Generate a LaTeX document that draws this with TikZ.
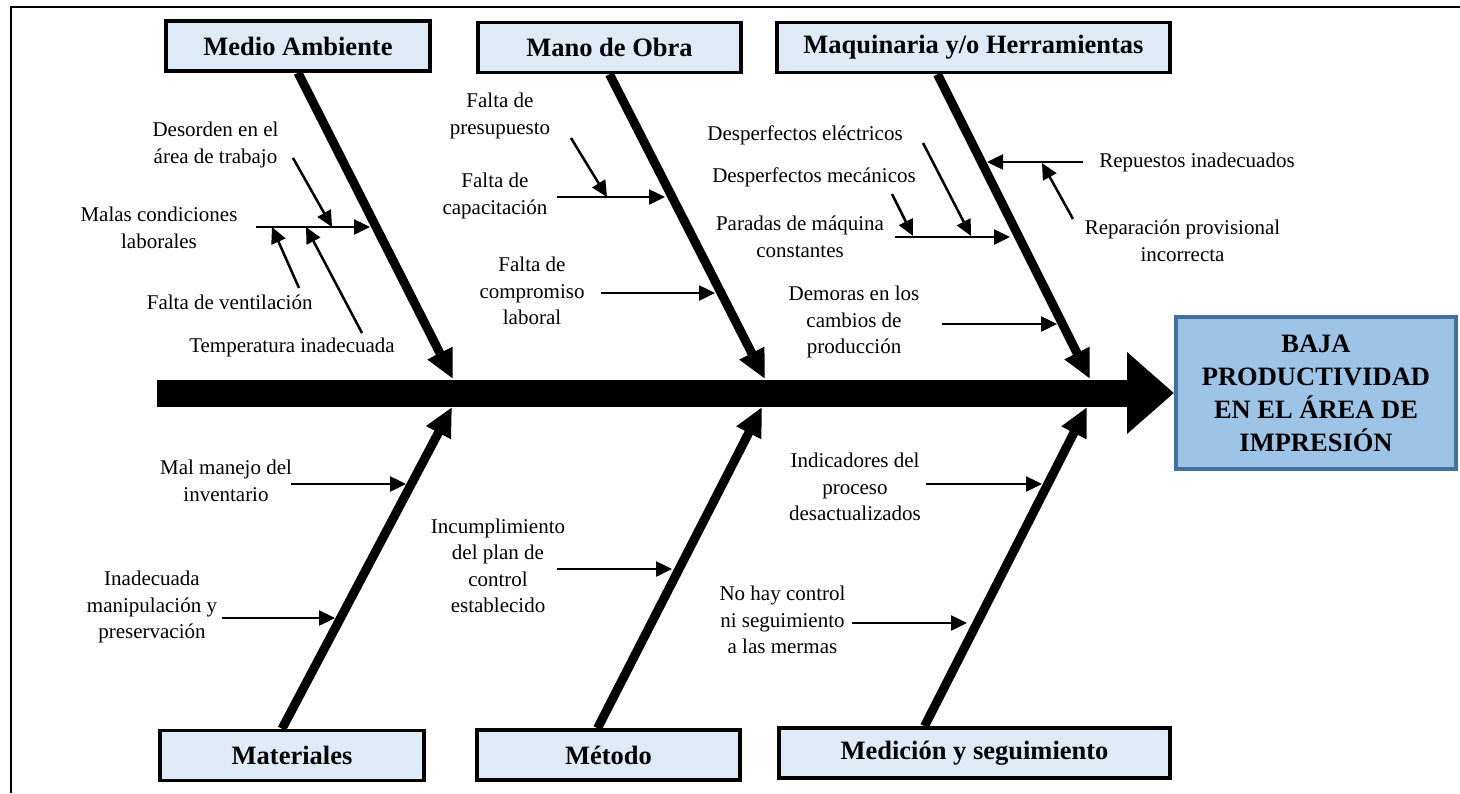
\documentclass[tikz,border=0pt]{standalone}
\usepackage{fontspec}
\setmainfont{Liberation Serif}
\usetikzlibrary{arrows.meta}

\definecolor{catfill}{RGB}{222,235,247}
\definecolor{efffill}{RGB}{157,195,230}
\definecolor{effdraw}{RGB}{65,113,156}

\tikzset{
  catbox/.style={draw, line width=3.5pt, fill=catfill, minimum height=50pt,
    font=\fontsize{26.5}{32}\selectfont\bfseries},
  cause/.style={align=center, inner sep=2pt, font=\fontsize{21}{26.5}\selectfont},
  bone/.style={line width=9pt, -{Triangle[length=29pt,width=26pt]}},
  sub/.style={line width=2.5pt, -{Triangle[length=16pt,width=15pt]}},
  spine/.style={line width=27pt, -{Triangle[length=47pt,width=79pt]}},
}

\begin{document}
\begin{tikzpicture}[x=1pt,y=-1pt]
\useasboundingbox (0,0) rectangle (1460,793);
% marco
\draw[line width=2.5pt] (11,793) -- (11,7) -- (1460,7);

% efecto
\node[draw=effdraw, line width=4pt, fill=efffill, minimum width=280pt, minimum height=152pt,
  align=center, font=\fontsize{26.5}{33}\selectfont\bfseries] (efecto) at (1316,393)
  {BAJA\\PRODUCTIVIDAD\\EN EL ÁREA DE\\IMPRESIÓN};

% categorias
\node[catbox, minimum width=264pt] (medio) at (298,46) {Medio Ambiente};
\node[catbox, minimum width=263pt] (mano) at (609.5,47.5) {Mano de Obra};
\node[catbox, minimum width=393pt] (maq) at (973.5,47.5) {Maquinaria y/o Herramientas};
\node[catbox, minimum width=264pt] (mat) at (292,755.5) {Materiales};
\node[catbox, minimum width=263pt] (met) at (608.5,755) {Método};
\node[catbox, minimum width=391pt] (med) at (974.5,753) {Medición y seguimiento};

% espina
\coordinate (cola) at (157,393);
\draw[spine] (cola) -- (efecto.west);

\coordinate (j1) at (453,379);
\coordinate (j2) at (765,379);
\coordinate (j3) at (1090,379);
\coordinate (k1) at (452,407);
\coordinate (k2) at (762,407);
\coordinate (k3) at (1087,407);

\draw[bone] (medio.south) -- (j1);
\draw[bone] (mano.south) -- (j2);
\draw[bone] ([xshift=-36pt]maq.south) -- (j3);
\draw[bone] ([xshift=-10pt]mat.north) -- (k1);
\draw[bone] ([xshift=-11pt]met.north) -- (k2);
\draw[bone] ([xshift=-50pt]med.north) -- (k3);

% Medio Ambiente
\node[cause] (ma1) at (215.5,145) {Desorden en el\\área de trabajo};
\node[cause] (ma2) at (159,228) {Malas condiciones\\laborales};
\node[cause] (ma3) at (229.7,302) {Falta de ventilación};
\node[cause] (ma4) at (292,347) {Temperatura inadecuada};
\coordinate (pma) at (370,227);
\draw[sub] (ma2.east |- pma) ++(16pt,0) -- (pma);
\coordinate (a1) at (293,158);
\coordinate (a2) at (332,227);
\coordinate (a3) at (299,288);
\coordinate (a4) at (272,227);
\coordinate (a5) at (362,333);
\coordinate (a6) at (306,227);
\draw[sub] (a1) -- (a2);
\draw[sub] (a3) -- (a4);
\draw[sub] (a5) -- (a6);

% Mano de Obra
\node[cause] (mo1) at (500,116) {Falta de\\presupuesto};
\node[cause] (mo2) at (495,196) {Falta de\\capacitación};
\node[cause] (mo3) at (532,291) {Falta de\\compromiso\\laboral};
\coordinate (pmo2) at (665,197);
\coordinate (pmo3) at (715,293);
\draw[sub] (mo2.east |- pmo2) ++(7pt,0) -- (pmo2);
\draw[sub] (mo3.east |- pmo3) ++(14pt,0) -- (pmo3);
\coordinate (b1) at (571,138);
\coordinate (b2) at (607,197);
\draw[sub] (b1) -- (b2);

% Maquinaria y/o Herramientas
\node[cause] (mq1) at (805,135) {Desperfectos eléctricos};
\node[cause] (mq2) at (814,177) {Desperfectos mecánicos};
\node[cause] (mq3) at (800,237) {Paradas de máquina\\constantes};
\node[cause] (mq4) at (854,322) {Demoras en los\\cambios de\\producción};
\node[cause] (mq5) at (1197,162) {Repuestos inadecuados};
\node[cause] (mq6) at (1182.5,241) {Reparación provisional\\incorrecta};
\coordinate (pmq3) at (1010,237);
\coordinate (pmq4) at (1057,324);
\coordinate (pmq5) at (987,162);
\draw[sub] (mq3.east |- pmq3) ++(9pt,0) -- (pmq3);
\draw[sub] (mq4.east |- pmq4) ++(20pt,0) -- (pmq4);
\draw[sub] (mq5.west |- pmq5) ++(-14pt,0) -- (pmq5);
\coordinate (c1) at (923,143);
\coordinate (c2) at (971,236);
\coordinate (c3) at (892,194);
\coordinate (c4) at (913,236);
\coordinate (c5) at (1073,219);
\coordinate (c6) at (1042,163);
\draw[sub] (c1) -- (c2);
\draw[sub] (c3) -- (c4);
\draw[sub] (c5) -- (c6);

% Materiales
\node[cause] (mt1) at (226,481) {Mal manejo del\\inventario};
\node[cause] (mt2) at (152,607) {Inadecuada\\manipulación y\\preservación};
\coordinate (pmt1) at (406,484);
\coordinate (pmt2) at (335,618);
\draw[sub] (mt1.east |- pmt1) ++(-3pt,0) -- (pmt1);
\draw[sub] (mt2.east |- pmt2) ++(3pt,0) -- (pmt2);

% Metodo
\node[cause] (me1) at (498,566) {Incumplimiento\\del plan de\\control\\establecido};
\coordinate (pme1) at (672,569);
\draw[sub] (me1.east |- pme1) ++(-10pt,0) -- (pme1);

% Medicion y seguimiento
\node[cause] (md1) at (855,487) {Indicadores del\\proceso\\desactualizados};
\node[cause] (md2) at (782.5,620) {No hay control\\ni seguimiento\\a las mermas};
\coordinate (pmd1) at (1042,484);
\coordinate (pmd2) at (967,623);
\draw[sub] (md1.east |- pmd1) ++(3pt,0) -- (pmd1);
\draw[sub] (md2.east |- pmd2) ++(4pt,0) -- (pmd2);
\end{tikzpicture}
\end{document}
